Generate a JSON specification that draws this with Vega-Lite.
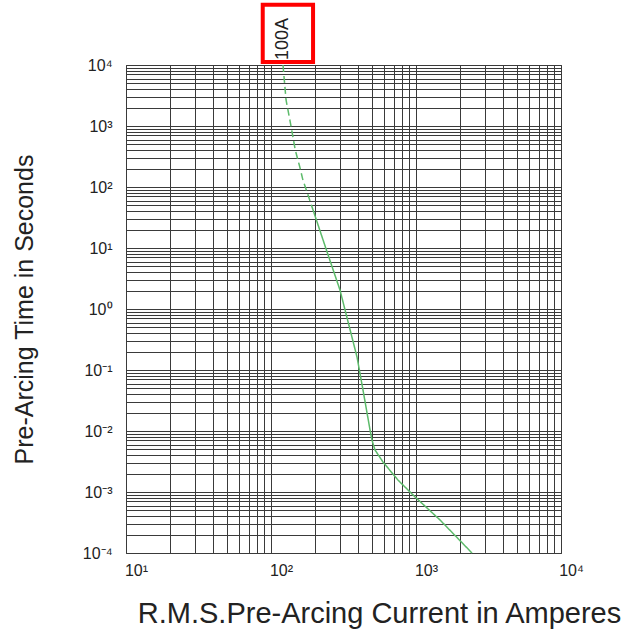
{
  "$schema": "https://vega.github.io/schema/vega-lite/v6.json",
  "width": 435,
  "height": 488,
  "autosize": "none",
  "padding": {"left": 126, "top": 65, "right": 75, "bottom": 81},
  "background": "white",
  "config": {
    "view": {"stroke": "#333333", "strokeWidth": 1},
    "font": "Liberation Sans",
    "axis": {
      "ticks": false,
      "tickSize": 0,
      "domain": false,
      "grid": true,
      "gridColor": "#3a3a3a",
      "gridOpacity": 1,
      "gridWidth": 1,
      "labelFontSize": 16,
      "labelColor": "#222222",
      "labelOverlap": false,
      "labelFlush": false,
      "labelBound": false,
      "titleFontWeight": "normal",
      "titleColor": "#222222"
    }
  },
  "datasets": {
    "curve": [
      {"current": 121, "time": 10000, "style": "dashed"},
      {"current": 127, "time": 2670, "style": "dashed"},
      {"current": 135, "time": 1250, "style": "dashed"},
      {"current": 147, "time": 405, "style": "dashed"},
      {"current": 158, "time": 213, "style": "dashed"},
      {"current": 166, "time": 130, "style": "dashed"},
      {"current": 180, "time": 74, "style": "dashed"},
      {"current": 195, "time": 42, "style": "dashed"},
      {"current": 195, "time": 42, "style": "solid"},
      {"current": 241, "time": 9.3, "style": "solid"},
      {"current": 299, "time": 2.05, "style": "solid"},
      {"current": 392, "time": 0.163, "style": "solid"},
      {"current": 431, "time": 0.047, "style": "solid"},
      {"current": 482, "time": 0.0104, "style": "solid"},
      {"current": 497, "time": 0.0071, "style": "solid"},
      {"current": 521, "time": 0.0049, "style": "solid"},
      {"current": 592, "time": 0.0031, "style": "solid"},
      {"current": 751, "time": 0.00157, "style": "solid"},
      {"current": 985, "time": 0.00083, "style": "solid"},
      {"current": 1466, "time": 0.000347, "style": "solid"},
      {"current": 2432, "time": 0.0001, "style": "solid"}
    ],
    "label": [
      {"current": 121, "time": 10000, "text": "100A"}
    ],
    "box": [
      {"current": 87.7, "current2": 195, "time": 97500, "time2": 11200}
    ]
  },
  "encoding": {
    "x": {
      "field": "current",
      "type": "quantitative",
      "scale": {"type": "log", "domain": [10, 10000]},
      "axis": {
        "values": [10,20,30,40,50,60,70,80,90,100,200,300,400,500,600,700,800,900,1000,2000,3000,4000,5000,6000,7000,8000,9000,10000],
        "labelExpr": "datum.value == 10 ? '10¹' : datum.value == 100 ? '10²' : datum.value == 1000 ? '10³' : datum.value == 10000 ? '10⁴' : ''",
        "labelPadding": 9,
        "labelAlign": "center",
        "labelOffset": 10,
        "title": "R.M.S.Pre-Arcing Current in Amperes",
        "titleFontSize": 29,
        "titleX": 253,
        "titleY": 69,
        "titleAlign": "center",
        "titleBaseline": "alphabetic"
      }
    },
    "y": {
      "field": "time",
      "type": "quantitative",
      "scale": {"type": "log", "domain": [0.0001, 10000]},
      "axis": {
        "values": [0.0001,0.0002,0.0003,0.0004,0.0005,0.0006,0.0007,0.0008,0.0009,0.001,0.002,0.003,0.004,0.005,0.006,0.007,0.008,0.009,0.01,0.02,0.03,0.04,0.05,0.06,0.07,0.08,0.09,0.1,0.2,0.3,0.4,0.5,0.6,0.7,0.8,0.9,1,2,3,4,5,6,7,8,9,10,20,30,40,50,60,70,80,90,100,200,300,400,500,600,700,800,900,1000,2000,3000,4000,5000,6000,7000,8000,9000,10000],
        "labelExpr": "datum.value == 0.0001 ? '10⁻⁴' : datum.value == 0.001 ? '10⁻³' : datum.value == 0.01 ? '10⁻²' : datum.value == 0.1 ? '10⁻¹' : datum.value == 1 ? '10⁰' : datum.value == 10 ? '10¹' : datum.value == 100 ? '10²' : datum.value == 1000 ? '10³' : datum.value == 10000 ? '10⁴' : ''",
        "labelPadding": 14,
        "title": "Pre-Arcing Time in Seconds",
        "titleFontSize": 25,
        "titleAngle": 270,
        "titleX": -94,
        "titleY": 244,
        "titleAlign": "center",
        "titleBaseline": "alphabetic"
      }
    }
  },
  "layer": [
    {
      "data": {"name": "curve"},
      "mark": {"type": "line", "color": "#5dbb6b", "strokeWidth": 1.5},
      "encoding": {
        "strokeDash": {
          "field": "style",
          "type": "nominal",
          "scale": {"domain": ["dashed", "solid"], "range": [[7, 4], [1, 0]]},
          "legend": null
        }
      }
    },
    {
      "data": {"name": "label"},
      "mark": {"type": "text", "angle": 270, "align": "left", "baseline": "middle", "fontSize": 18, "dx": 5, "dy": 0, "color": "#222222"},
      "encoding": {
        "text": {"field": "text", "type": "nominal"}
      }
    },
    {
      "data": {"name": "box"},
      "mark": {"type": "rect", "fill": null, "fillOpacity": 0, "stroke": "#ff0000", "strokeWidth": 4},
      "encoding": {
        "x2": {"field": "current2"},
        "y2": {"field": "time2"}
      }
    }
  ]
}
